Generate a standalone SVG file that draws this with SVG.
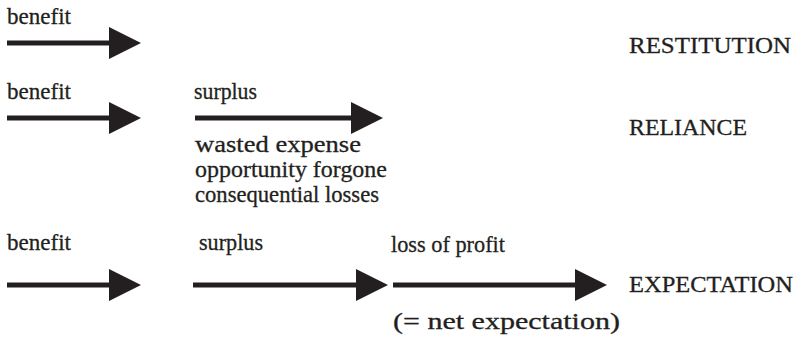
<svg xmlns="http://www.w3.org/2000/svg" width="797" height="339" viewBox="0 0 797 339">
<style>
.t text{font-size:23px;fill:#231f20;stroke:#231f20;stroke-width:0.3}
.shaft{stroke:#231f20;stroke-width:5;fill:none}
</style>
<defs>
<marker id="head" viewBox="0 0 32 32" refX="4" refY="16" markerWidth="32" markerHeight="32" markerUnits="userSpaceOnUse" orient="auto">
<path d="M0,0 L32,16 L0,32 Z" fill="#231f20"/>
</marker>
</defs>
<rect width="797" height="339" fill="#fff"/>
<g id="connectors">
<line class="shaft" x1="7" y1="43" x2="113" y2="43" marker-end="url(#head)"/>
<line class="shaft" x1="7" y1="118" x2="113" y2="118" marker-end="url(#head)"/>
<line class="shaft" x1="195" y1="118" x2="355" y2="118" marker-end="url(#head)"/>
<line class="shaft" x1="7" y1="285" x2="113" y2="285" marker-end="url(#head)"/>
<line class="shaft" x1="193" y1="285" x2="360" y2="285" marker-end="url(#head)"/>
<line class="shaft" x1="393" y1="285" x2="579" y2="285" marker-end="url(#head)"/>
</g>
<g class="t" font-family="Liberation Serif, Times New Roman, serif">
<g id="restitution">
<text x="7" y="24" textLength="64" lengthAdjust="spacingAndGlyphs">benefit</text>
<text x="629" y="53" textLength="162" lengthAdjust="spacingAndGlyphs">RESTITUTION</text>
</g>
<g id="reliance">
<text x="7" y="99" textLength="64" lengthAdjust="spacingAndGlyphs">benefit</text>
<text x="194" y="99" textLength="63" lengthAdjust="spacingAndGlyphs">surplus</text>
<text x="195" y="152" textLength="166" lengthAdjust="spacingAndGlyphs">wasted expense</text>
<text x="195" y="177" textLength="192" lengthAdjust="spacingAndGlyphs">opportunity forgone</text>
<text x="195" y="202" textLength="184" lengthAdjust="spacingAndGlyphs">consequential losses</text>
<text x="629" y="135" textLength="118" lengthAdjust="spacingAndGlyphs">RELIANCE</text>
</g>
<g id="expectation">
<text x="7" y="250" textLength="64" lengthAdjust="spacingAndGlyphs">benefit</text>
<text x="199" y="250" textLength="64" lengthAdjust="spacingAndGlyphs">surplus</text>
<text x="391" y="252" textLength="114" lengthAdjust="spacingAndGlyphs">loss of profit</text>
<text x="393" y="329" textLength="227" lengthAdjust="spacingAndGlyphs">(= net expectation)</text>
<text x="629" y="292" textLength="164" lengthAdjust="spacingAndGlyphs">EXPECTATION</text>
</g>
</g>
</svg>
